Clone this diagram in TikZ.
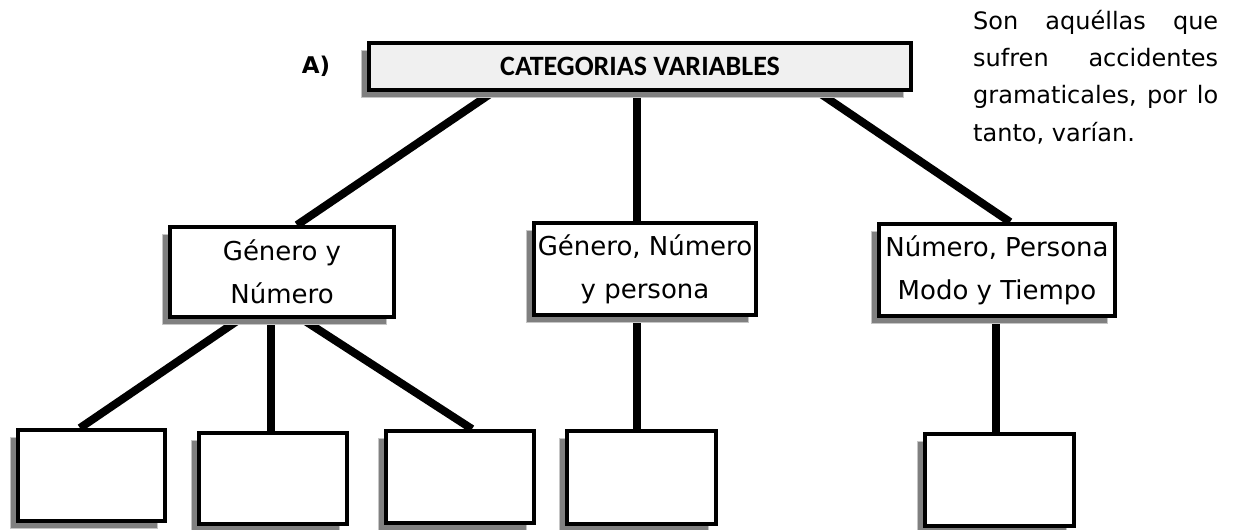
\documentclass[tikz,border=0pt]{standalone}
\usepackage{fontspec}
\setmainfont{DejaVu Sans}
\newfontfamily\titlefont{Carlito}
\usetikzlibrary{shadows,backgrounds}
\tikzset{
  caja/.style={draw, line width=4pt, fill=white, inner sep=0pt, align=center,
    font=\fontsize{26}{43}\selectfont,
    drop shadow={shadow xshift=-8pt, shadow yshift=-7pt, fill=gray, draw=gray!45, line width=1pt, opacity=1}},
  rama/.style={line width=8pt},
}
\begin{document}
\begin{tikzpicture}[x=1pt, y=-1pt, line cap=rect]
  \useasboundingbox (0,0) rectangle (1234,530);
  \node[caja, fill=gray!12, minimum width=542pt, minimum height=47pt,
        font=\titlefont\bfseries\fontsize{28}{30}\selectfont] (cat) at (640,66.5) {CATEGORIAS VARIABLES};
  \node[font=\bfseries\fontsize{23}{24}\selectfont] (letra) at (316,66) {A)};
  % segundo nivel
  \node[caja, minimum width=224pt, minimum height=90pt] (gn) at (282,272) {Género y\\Número};
  \node[caja, minimum width=222pt, minimum height=92pt] (gnp) at (645,269) {Género, Número\\y persona};
  \node[caja, minimum width=236pt, minimum height=92pt] (npmt) at (997,270) {Número, Persona\\Modo y Tiempo};
  % cajas vacias
  \foreach \n/\x/\y/\w/\h in {b1/91.5/475.5/147/91, b2/273/478.5/148/91, b3/460/477/148/92,
                              b4/641.5/477.5/149/93, b5/999.5/480/149/92}
    \node[caja, minimum width=\w pt, minimum height=\h pt] (\n) at (\x,\y) {};
  \begin{scope}[on background layer]
    \draw[rama] ([xshift=-147pt]cat.south) -- ([xshift=15pt]gn.north);
    \draw[rama] ([xshift=-3pt]cat.south) -- ([xshift=-8pt]gnp.north);
    \draw[rama] ([xshift=178pt]cat.south) -- ([xshift=13pt]npmt.north);
    \draw[rama] ([xshift=-42pt]gn.south) -- ([xshift=-11.5pt]b1.north);
    \draw[rama] ([xshift=-11pt]gn.south) -- ([xshift=-2pt]b2.north);
    \draw[rama] ([xshift=20pt]gn.south) -- ([xshift=12pt]b3.north);
    \draw[rama] ([xshift=-8pt]gnp.south) -- ([xshift=-4.5pt]b4.north);
    \draw[rama] ([xshift=-1pt]npmt.south) -- ([xshift=-3.5pt]b5.north);
  \end{scope}
  \node[anchor=north west, inner sep=0pt, align=left, font=\fontsize{24}{37.3}\selectfont] (def) at (973,10)
    {\makebox[245pt][s]{Son aquéllas que}\\ \makebox[245pt][s]{sufren accidentes}\\
     \makebox[245pt][s]{gramaticales, por lo}\\ tanto, varían.};
\end{tikzpicture}
\end{document}
